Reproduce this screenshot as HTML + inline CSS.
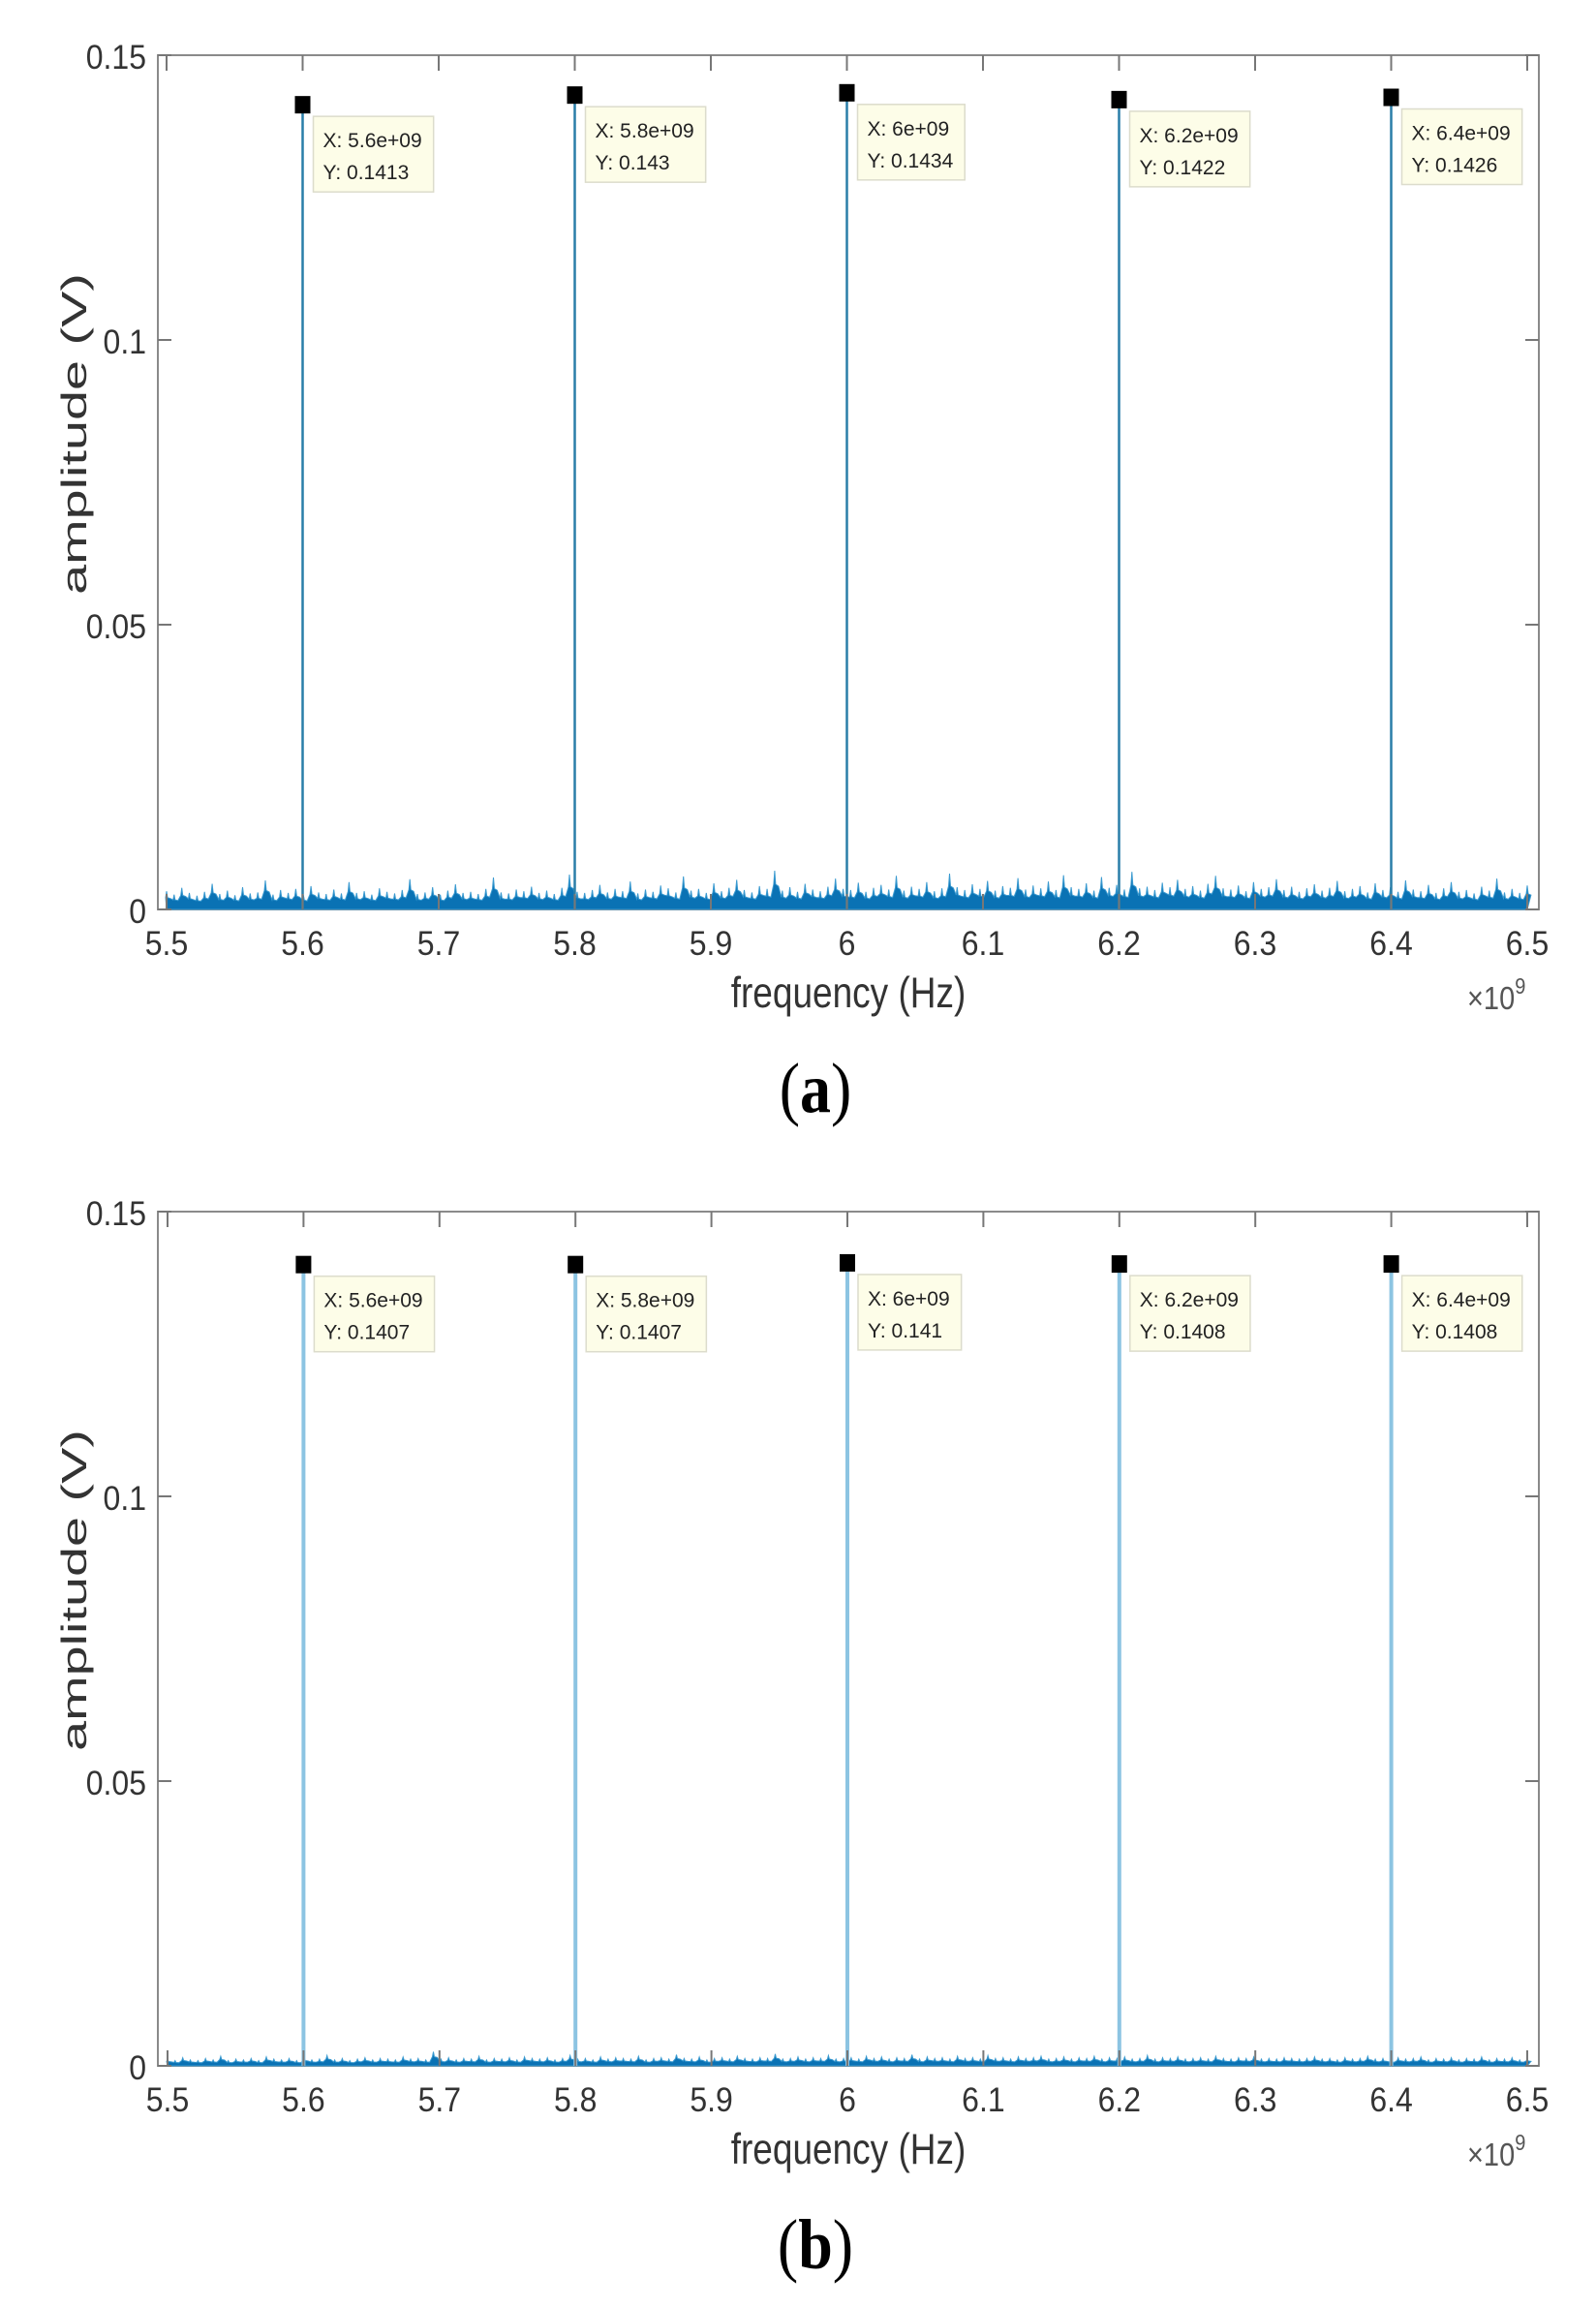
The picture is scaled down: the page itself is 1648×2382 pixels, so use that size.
<!DOCTYPE html>
<html><head><meta charset="utf-8"><style>
html,body{margin:0;padding:0;background:#fff;}
svg{display:block;font-family:"Liberation Sans",sans-serif;}
</style></head><body>
<svg id="fig" width="1648" height="2382" viewBox="0 0 1648 2382" xmlns="http://www.w3.org/2000/svg">
<rect width="1648" height="2382" fill="#fff"/>
<text transform="translate(842,1148) scale(1,1.15)" text-anchor="middle" font-family="Liberation Serif,serif" font-size="64" fill="#000">(<tspan font-weight="bold">a</tspan>)</text>
<text transform="translate(842,2342) scale(1,1.15)" text-anchor="middle" font-family="Liberation Serif,serif" font-size="64" fill="#000">(<tspan font-weight="bold">b</tspan>)</text>
</svg>
<script>
const xTicks=[5.5,5.6,5.7,5.8,5.9,6.0,6.1,6.2,6.3,6.4,6.5];
const xTickLabels=["5.5","5.6","5.7","5.8","5.9","6","6.1","6.2","6.3","6.4","6.5"];
const yTicks=[0,0.05,0.1,0.15];
const yTickLabels=["0","0.05","0.1","0.15"];
const peakFreqsA=[5.6,5.8,6.0,6.2,6.4];
const peakAmpsA=[0.1413,0.143,0.1434,0.1422,0.1426];
const peakXLabelsA=["5.6e+09","5.8e+09","6e+09","6.2e+09","6.4e+09"];
const peakFreqsB=[5.6,5.8,6.0,6.2,6.4];
const peakAmpsB=[0.1407,0.1407,0.141,0.1408,0.1408];
const peakXLabelsB=["5.6e+09","5.8e+09","6e+09","6.2e+09","6.4e+09"];
// noise floor, in mV (before scale)
const noiseA=[3.2,2.6,3.8,2.9,2.4,3.1,4.5,2.7,3.3,2.5,3.9,2.8,3.0,5.1,2.6,3.4,2.9,3.6,2.5,4.1,3.0,2.7,3.5,2.8,4.8,2.9,3.2,2.6,3.7,3.1,
2.8,3.4,5.3,2.7,3.0,3.9,2.6,3.3,4.4,2.9,3.1,2.7,3.6,5.6,3.0,2.8,3.5,3.2,4.0,2.9,3.3,2.7,3.8,6.1,3.1,2.9,3.4,4.3,3.0,3.6,
3.2,4.9,2.8,3.5,3.1,4.2,3.7,3.0,5.8,3.3,3.6,2.9,4.6,3.2,3.8,5.2,3.4,3.0,4.1,3.6,6.8,3.3,3.9,3.1,4.5,3.5,3.2,4.0,5.4,3.6,
3.4,4.7,3.1,3.8,4.3,3.5,5.9,3.3,4.0,3.6,4.8,3.2,3.7,6.3,3.9,3.4,4.4,3.6,5.0,3.3,4.1,3.8,5.5,3.5,4.2,3.7,4.9,3.4,6.0,3.9,
3.6,4.6,3.3,5.7,3.8,4.3,3.5,6.6,3.7,4.0,3.4,4.7,3.9,5.2,3.6,4.1,3.3,4.5,5.9,3.7,3.5,4.2,3.2,4.8,3.6,3.9,5.3,3.4,4.0,3.1,
3.7,4.4,3.3,3.8,5.0,3.2,3.6,4.1,3.0,4.6,3.4,3.9,3.1,5.1,3.5,3.2,4.3,2.9,3.7,4.8,3.1,3.4,2.8,4.0,3.3,5.4,3.0,3.6,2.9,4.2];
const noiseB=[0.9,0.7,1.1,0.8,0.7,1.0,0.8,1.3,0.7,0.9,0.8,1.0,0.7,1.2,0.9,0.8,1.0,0.7,1.1,0.8,0.9,1.4,0.8,1.0,0.7,0.9,1.1,0.8,1.0,0.9,
0.8,1.2,0.9,1.0,0.8,1.9,0.9,1.1,0.8,1.0,0.9,1.3,0.8,1.0,0.9,1.1,0.8,1.2,1.0,0.9,1.1,0.8,1.0,1.4,0.9,1.0,0.8,1.2,0.9,1.1,
1.0,0.9,1.3,0.8,1.0,1.1,0.9,1.5,1.0,0.9,1.2,0.8,1.0,1.1,0.9,1.3,1.0,0.9,1.1,1.0,1.6,0.9,1.0,1.2,0.9,1.1,1.0,1.4,0.9,1.0,
1.1,0.9,1.3,1.0,1.2,0.9,1.1,1.0,1.5,0.9,1.2,1.0,1.1,0.9,1.3,1.0,1.1,0.9,1.4,1.0,1.1,0.9,1.2,1.0,1.1,1.3,0.9,1.0,1.2,0.9,
1.1,1.0,1.3,0.9,1.1,1.0,1.2,0.9,1.0,1.4,0.9,1.1,1.0,1.2,0.9,1.0,1.1,0.9,1.3,1.0,0.9,1.1,1.0,1.2,0.9,1.0,0.9,1.1,1.0,0.9,
1.0,1.2,0.9,1.0,0.8,1.1,0.9,1.0,1.3,0.9,1.0,0.8,1.1,0.9,1.0,1.2,0.8,1.0,0.9,1.1,0.8,1.0,0.9,1.2,0.8,1.0,0.9,1.1,0.8,1.0];

const NS="http://www.w3.org/2000/svg";
const svg=document.getElementById('fig');
function mk(tag,attrs,parent){const e=document.createElementNS(NS,tag);for(const k in attrs)e.setAttribute(k,attrs[k]);(parent||svg).appendChild(e);return e;}

function drawPanel(p){
  const g=mk('g',{});
  
  
  const xs=v=>p.x0+(v-5.5)/1.0*(p.x1-p.x0);
  const ys=v=>p.y0-(v/0.15)*(p.y0-p.yTop);
  const box=mk('rect',{x:p.bl,y:p.yTop,width:p.br-p.bl,height:p.y0-p.yTop,fill:'#fff',stroke:'#8a8a8a','stroke-width':2},g);
  
  
  const n=p.noise.length;
  let d='M'+xs(5.5)+','+ys(0);
  const step=(p.x1-p.x0)/(n-1);
  for(let i=0;i<n;i++){
    const f=5.5+i/(n-1);
    d+=' L'+(xs(f)-1).toFixed(1)+','+ys(p.noise[i]*p.base*0.65/1000).toFixed(1);
    d+=' L'+xs(f).toFixed(1)+','+ys(p.noise[i]*p.base/1000).toFixed(1);
    d+=' L'+(xs(f)+1).toFixed(1)+','+ys(p.noise[i]*p.base*0.65/1000).toFixed(1);
    d+=' L'+(xs(f)+step*0.5).toFixed(1)+','+ys(p.noise[i]*p.base*0.6/1000).toFixed(1);
  }
  d+=' L'+xs(6.5)+','+ys(0)+' Z';
  const nz=mk('path',{d:d,fill:'#0a72b4',stroke:'#3a9ad0','stroke-width':1},g);
  
  
  p.freqs.forEach((f,i)=>{
    const s=mk('line',{x1:xs(f),x2:xs(f),y1:ys(0),y2:ys(p.amps[i]),stroke:p.stemColor,'stroke-width':p.stemW},g);
    
    
  });
  xTicks.forEach((t,i)=>{
    const x=xs(t);
    mk('line',{x1:x,x2:x,y1:p.y0,y2:p.y0-16,stroke:'#777','stroke-width':2},g);
    mk('line',{x1:x,x2:x,y1:p.yTop,y2:p.yTop+16,stroke:'#777','stroke-width':2},g);
    const tl=mk('text',{transform:'translate('+x+','+(p.y0+47)+') scale(1,1.1)','text-anchor':'middle','font-size':32,fill:'#333'},g);
    tl.textContent=xTickLabels[i];
    
    
  });
  yTicks.forEach((t,i)=>{
    const y=ys(t);
    mk('line',{x1:p.bl,x2:p.bl+14,y1:y,y2:y,stroke:'#777','stroke-width':2},g);
    mk('line',{x1:p.br,x2:p.br-14,y1:y,y2:y,stroke:'#777','stroke-width':2},g);
    const tl=mk('text',{transform:'translate('+(p.bl-12)+','+(y+14)+') scale(1,1.1)','text-anchor':'end','font-size':32,fill:'#333'},g);
    tl.textContent=yTickLabels[i];
    
    
  });
  const xl=mk('text',{transform:'translate(876,'+(p.y0+101)+') scale(1,1.2)','text-anchor':'middle','font-size':37,fill:'#333'},g);
  xl.textContent='frequency (Hz)';
  
  
  const yl=mk('text',{'text-anchor':'middle','font-size':36,fill:'#333',transform:'translate(89,'+(p.yTop+391)+') rotate(-90) scale(1.55,1)'},g);
  yl.textContent='amplitude (V)';
  
  
  const ex=mk('text',{transform:'translate(1515,'+(p.y0+103)+') scale(1,1.15)','font-size':29,fill:'#555'},g);
  ex.innerHTML='×10<tspan dy="-14" font-size="20">9</tspan>';
  
  
  p.freqs.forEach((f,i)=>{
    const x=xs(f),y=ys(p.amps[i]);
    const tg=mk('g',{},g);
    
    
    mk('rect',{x:x-8,y:y-9,width:16,height:18,fill:'#000'},tg);
    const bx=mk('rect',{x:x+11,y:y+12,width:120,height:78,fill:'#fdfde8',stroke:'#dcdccc','stroke-width':1.5},tg);
    const t1=mk('text',{x:x+21,y:y+44,'font-size':21,fill:'#222'},tg);
    t1.textContent='X: '+p.xl[i];
    const t2=mk('text',{x:x+21,y:y+77,'font-size':21,fill:'#222'},tg);
    t2.textContent='Y: '+p.amps[i];
    const w=Math.max(t1.getComputedTextLength(),t2.getComputedTextLength());
    bx.setAttribute('width',w+22);
  });
}
drawPanel({name:'panel-a-chart',x0:172,x1:1577,bl:163,br:1589,yTop:57,y0:939,freqs:peakFreqsA,amps:peakAmpsA,xl:peakXLabelsA,noise:noiseA,base:1.0,stemColor:'#2a7ea8',stemW:2.5});
drawPanel({name:'panel-b-chart',x0:173,x1:1577,bl:163,br:1589,yTop:1251,y0:2133,freqs:peakFreqsB,amps:peakAmpsB,xl:peakXLabelsB,noise:noiseB,base:1.3,stemColor:'#8cc4e2',stemW:4});
</script>
</body></html>
